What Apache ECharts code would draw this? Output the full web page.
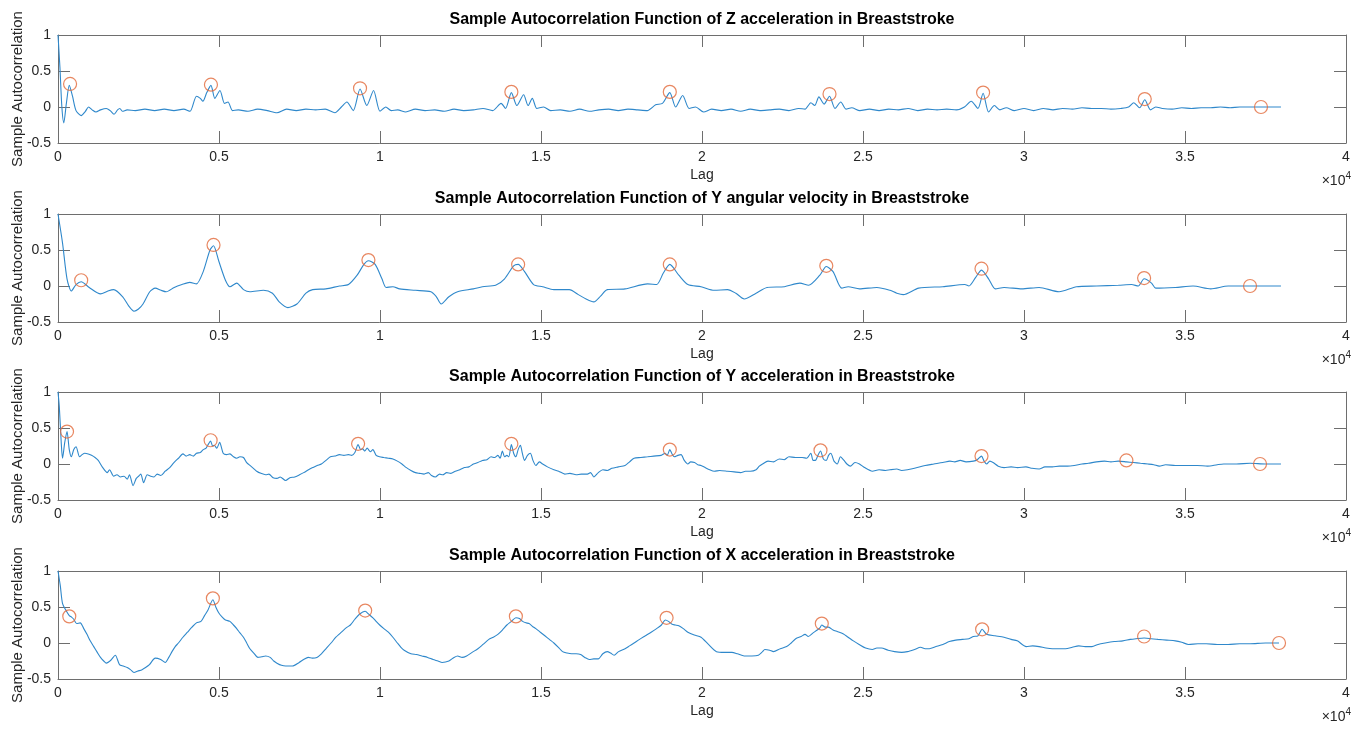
<!DOCTYPE html>
<html>
<head>
<meta charset="utf-8">
<script src="https://cdn.jsdelivr.net/npm/echarts@6/dist/echarts.min.js"></script>
<style>
html,body{margin:0;padding:0;background:#fff;}
#chart{width:1370px;height:729px;}
</style>
</head>
<body>
<div id="chart"></div>
<script>
// ---------------- DATA ----------------
const xTickLabels = ['0','0.5','1','1.5','2','2.5','3','3.5','4'];
const yTicks = [-0.5, 0, 0.5, 1];
const titles = [
  'Sample Autocorrelation Function of Z acceleration in Breaststroke',
  'Sample Autocorrelation Function of Y angular velocity in Breaststroke',
  'Sample Autocorrelation Function of Y acceleration in Breaststroke',
  'Sample Autocorrelation Function of X acceleration in Breaststroke'
];
const xAxisName = 'Lag';
const yAxisName = 'Sample Autocorrelation';
const xExponent = '×10{s|4}';

// [lag, autocorrelation]
const acfZAcc = [[0,1.0],[60,0.55],[120,0.0],[180,-0.22],[260,0.05],[350,0.3],[450,0.15],[560,-0.05],[720,-0.12],[850,-0.06],[950,0.0],[1060,-0.04],[1180,-0.07],[1320,-0.04],[1500,-0.02],[1620,-0.05],[1740,-0.1],[1850,-0.04],[1920,-0.02],[2000,-0.06],[2150,-0.04],[2400,-0.05],[2700,-0.03],[3000,-0.05],[3300,-0.03],[3600,-0.05],[3900,-0.03],[4100,-0.06],[4300,0.15],[4420,0.12],[4500,0.08],[4620,0.2],[4750,0.3],[4870,0.12],[5030,0.23],[5170,0.05],[5280,0.07],[5420,-0.05],[5600,-0.04],[5900,-0.06],[6200,-0.03],[6500,-0.05],[6800,-0.08],[7100,-0.03],[7400,-0.05],[7700,-0.03],[8000,-0.04],[8300,-0.03],[8600,-0.08],[8800,0.0],[8970,0.07],[9170,-0.05],[9380,0.25],[9590,0.02],[9800,0.23],[10000,-0.06],[10180,0.0],[10350,-0.05],[10550,-0.04],[10800,-0.07],[11100,-0.03],[11400,-0.05],[11700,-0.04],[12000,-0.06],[12300,-0.03],[12600,-0.05],[12900,-0.04],[13200,-0.02],[13500,-0.05],[13760,0.05],[13900,-0.02],[14080,0.2],[14250,0.02],[14460,0.17],[14600,0.02],[14730,0.12],[14870,-0.02],[15080,0.0],[15300,-0.05],[15600,-0.04],[15900,-0.06],[16200,-0.03],[16500,-0.06],[16800,-0.04],[17100,-0.03],[17400,-0.05],[17700,-0.03],[18000,-0.04],[18300,-0.05],[18560,0.03],[18770,0.05],[19000,0.2],[19180,0.0],[19400,0.16],[19600,-0.02],[19800,0.0],[20050,-0.07],[20300,-0.03],[20600,-0.05],[20900,-0.03],[21200,-0.06],[21500,-0.03],[21800,-0.05],[22100,-0.04],[22400,-0.03],[22700,-0.05],[23000,-0.02],[23200,-0.03],[23380,0.06],[23500,0.02],[23630,0.14],[23790,0.04],[23960,0.15],[24130,-0.02],[24310,0.07],[24470,-0.03],[24650,-0.01],[24900,-0.05],[25200,-0.03],[25500,-0.05],[25800,-0.03],[26100,-0.04],[26400,-0.02],[26700,-0.05],[27000,-0.03],[27300,-0.04],[27600,-0.03],[27900,-0.04],[28150,0.0],[28360,0.08],[28570,-0.02],[28730,0.19],[28900,-0.07],[29080,0.02],[29250,-0.04],[29450,-0.01],[29700,-0.05],[30000,-0.02],[30300,-0.05],[30600,-0.02],[30900,-0.04],[31200,-0.02],[31500,-0.03],[31800,-0.01],[32100,-0.02],[32400,-0.02],[32700,-0.03],[33000,-0.02],[33250,0.0],[33410,0.06],[33590,-0.01],[33750,0.1],[33930,-0.04],[34090,0.0],[34300,-0.02],[34600,-0.03],[34900,-0.01],[35200,-0.02],[35500,-0.01],[35800,-0.01],[36100,0.0],[36400,-0.01],[36700,0.0],[37000,0.0],[37300,0.0],[37600,0.0],[37980,0.0]];
const peaksZAcc = [[375,0.32],[4750,0.31],[9380,0.26],[14080,0.21],[19000,0.21],[23960,0.18],[28730,0.2],[33750,0.11],[37360,0.0]];

const acfYGyr = [[0,1.0],[140,0.6],[280,0.1],[415,-0.07],[560,0.02],[720,0.06],[970,-0.02],[1320,-0.11],[1550,-0.07],[1730,-0.05],[2010,-0.15],[2200,-0.28],[2360,-0.35],[2500,-0.32],[2640,-0.25],[2850,-0.08],[3020,-0.03],[3200,-0.06],[3360,-0.08],[3610,-0.02],[3850,0.02],[4090,0.05],[4300,0.03],[4510,0.2],[4720,0.5],[4830,0.56],[4990,0.35],[5200,0.08],[5340,-0.01],[5550,0.04],[5760,-0.05],[5960,-0.08],[6380,-0.06],[6660,-0.1],[6870,-0.22],[7140,-0.3],[7420,-0.25],[7700,-0.1],[7910,-0.05],[8320,-0.04],[8740,0.0],[9020,0.02],[9290,0.15],[9500,0.3],[9640,0.35],[9850,0.3],[10060,0.1],[10190,-0.02],[10400,-0.01],[10610,-0.04],[11100,-0.06],[11580,-0.08],[11750,-0.15],[11900,-0.25],[12140,-0.15],[12410,-0.08],[12900,-0.04],[13180,-0.01],[13590,0.01],[13870,0.1],[14150,0.28],[14290,0.3],[14490,0.2],[14770,0.02],[15050,-0.01],[15400,-0.05],[15880,-0.05],[16160,-0.12],[16400,-0.18],[16640,-0.22],[16850,-0.14],[17060,-0.05],[17610,-0.04],[18310,0.03],[18590,0.02],[18800,0.18],[19000,0.3],[19280,0.15],[19560,0.02],[19970,-0.01],[20380,-0.06],[20790,-0.05],[21050,-0.1],[21310,-0.18],[21680,-0.1],[22020,-0.02],[22560,-0.01],[23040,0.04],[23310,0.01],[23660,0.15],[23860,0.27],[24070,0.2],[24340,-0.03],[24540,-0.01],[24890,-0.04],[25430,-0.02],[25840,-0.06],[26050,-0.1],[26250,-0.12],[26730,-0.03],[27480,-0.01],[28160,0.02],[28290,0.0],[28500,0.12],[28680,0.22],[28900,0.1],[29110,-0.04],[29380,-0.02],[29930,-0.04],[30470,-0.02],[31090,-0.08],[31630,-0.01],[32250,0.0],[32930,0.01],[33340,0.02],[33550,0.0],[33730,0.1],[33960,0.04],[34090,-0.03],[34700,-0.02],[35250,0.0],[35800,-0.04],[36340,0.0],[37020,0.0],[37980,0.0]];
const peaksYGyr = [[720,0.08],[4830,0.57],[9640,0.36],[14290,0.3],[19000,0.3],[23860,0.28],[28680,0.24],[33730,0.11],[37020,0.0]];

const acfYAcc = [[0,1.0],[40,0.8],[100,0.3],[140,0.08],[210,0.3],[280,0.45],[350,0.2],[415,0.1],[490,0.2],[560,0.24],[670,0.1],[750,0.13],[830,0.15],[940,0.14],[1040,0.12],[1150,0.09],[1250,0.05],[1390,-0.05],[1530,-0.12],[1600,-0.08],[1730,-0.17],[1830,-0.15],[1940,-0.18],[2050,-0.17],[2150,-0.21],[2220,-0.15],[2330,-0.3],[2430,-0.2],[2500,-0.17],[2570,-0.14],[2660,-0.26],[2770,-0.15],[2880,-0.17],[2980,-0.18],[3080,-0.14],[3190,-0.16],[3330,-0.1],[3470,-0.05],[3600,0.02],[3740,0.08],[3880,0.14],[3980,0.11],[4090,0.13],[4200,0.11],[4300,0.15],[4420,0.16],[4510,0.2],[4600,0.22],[4650,0.26],[4740,0.32],[4800,0.25],[4850,0.26],[4930,0.22],[5020,0.3],[5130,0.15],[5230,0.13],[5340,0.14],[5450,0.1],[5550,0.08],[5650,0.1],[5760,0.09],[5860,0.02],[5960,-0.02],[6070,-0.06],[6170,-0.1],[6300,-0.13],[6450,-0.15],[6550,-0.14],[6680,-0.19],[6800,-0.2],[6900,-0.18],[7070,-0.23],[7200,-0.19],[7350,-0.18],[7500,-0.15],[7630,-0.12],[7780,-0.08],[7910,-0.05],[8050,-0.02],[8180,0.0],[8320,0.05],[8460,0.1],[8600,0.11],[8740,0.13],[8880,0.12],[9020,0.13],[9120,0.12],[9220,0.16],[9320,0.27],[9400,0.2],[9460,0.21],[9530,0.18],[9600,0.22],[9700,0.17],[9780,0.2],[9880,0.12],[9990,0.1],[10120,0.09],[10260,0.08],[10400,0.07],[10540,0.04],[10680,0.0],[10820,-0.05],[10960,-0.09],[11100,-0.12],[11230,-0.13],[11370,-0.14],[11500,-0.12],[11600,-0.16],[11720,-0.18],[11850,-0.14],[11950,-0.15],[12070,-0.12],[12200,-0.13],[12340,-0.1],[12480,-0.08],[12620,-0.05],[12760,-0.04],[12900,0.0],[13040,0.02],[13180,0.05],[13320,0.06],[13450,0.1],[13560,0.09],[13660,0.12],[13730,0.08],[13800,0.18],[13870,0.1],[13940,0.12],[14000,0.1],[14080,0.27],[14150,0.15],[14220,0.1],[14290,0.2],[14360,0.26],[14420,0.15],[14490,0.05],[14580,0.12],[14670,0.15],[14750,0.05],[14840,-0.02],[14950,0.03],[15050,0.0],[15200,-0.04],[15400,-0.08],[15550,-0.1],[15740,-0.14],[15900,-0.13],[16090,-0.15],[16250,-0.14],[16440,-0.14],[16540,-0.12],[16640,-0.18],[16780,-0.12],[16920,-0.08],[17060,-0.09],[17200,-0.06],[17400,-0.04],[17610,-0.02],[17750,0.03],[17890,0.08],[18100,0.09],[18310,0.1],[18500,0.11],[18730,0.12],[18860,0.15],[18920,0.12],[19000,0.2],[19070,0.14],[19140,0.1],[19250,0.12],[19350,0.13],[19450,0.05],[19560,0.0],[19650,0.03],[19770,0.02],[19870,-0.01],[19970,-0.02],[20100,-0.05],[20240,-0.08],[20380,-0.1],[20550,-0.09],[20790,-0.1],[21000,-0.11],[21200,-0.12],[21350,-0.1],[21500,-0.1],[21680,-0.08],[21780,-0.03],[21880,0.0],[22050,0.04],[22220,0.03],[22400,0.07],[22550,0.06],[22700,0.1],[22900,0.09],[23110,0.09],[23250,0.08],[23380,0.15],[23450,0.05],[23520,0.05],[23600,0.12],[23680,0.18],[23770,0.07],[23860,0.05],[23930,0.12],[24000,0.15],[24100,0.04],[24200,0.0],[24300,0.1],[24410,0.05],[24500,0.0],[24610,-0.03],[24750,0.02],[24890,0.0],[25050,-0.05],[25290,-0.1],[25500,-0.08],[25700,-0.09],[25840,-0.08],[26050,-0.07],[26200,-0.09],[26380,-0.08],[26600,-0.06],[26930,-0.02],[27200,0.0],[27480,0.02],[27700,0.04],[27850,0.03],[28020,0.05],[28200,0.03],[28430,0.04],[28550,0.06],[28680,0.11],[28760,0.04],[28840,0.0],[28940,0.04],[29040,0.02],[29200,-0.03],[29380,-0.05],[29600,-0.04],[29800,-0.05],[30060,-0.04],[30250,-0.06],[30470,-0.07],[30650,-0.04],[30880,-0.04],[31100,-0.03],[31350,-0.03],[31560,-0.02],[31800,0.0],[32000,0.01],[32250,0.03],[32500,0.04],[32700,0.03],[32930,0.04],[33180,0.03],[33400,0.02],[33620,0.01],[33850,0.0],[34030,-0.01],[34200,-0.03],[34400,-0.01],[34700,-0.02],[35000,-0.02],[35380,-0.02],[35700,-0.03],[36000,-0.01],[36200,0.0],[36600,0.0],[37020,0.01],[37500,0.0],[37980,0.0]];
const peaksYAcc = [[280,0.45],[4740,0.33],[9320,0.28],[14080,0.28],[19000,0.2],[23680,0.19],[28680,0.11],[33180,0.05],[37330,0.0]];

const acfXAcc = [[0,1.0],[70,0.8],[140,0.55],[250,0.45],[350,0.38],[420,0.36],[490,0.33],[580,0.27],[690,0.28],[800,0.2],[900,0.12],[1000,0.03],[1110,-0.05],[1220,-0.13],[1320,-0.2],[1420,-0.25],[1500,-0.28],[1640,-0.24],[1780,-0.17],[1910,-0.3],[2030,-0.32],[2150,-0.34],[2250,-0.37],[2360,-0.41],[2480,-0.39],[2610,-0.37],[2720,-0.34],[2840,-0.3],[3020,-0.21],[3190,-0.23],[3330,-0.27],[3440,-0.2],[3540,-0.12],[3640,-0.05],[3740,0.0],[3880,0.08],[4020,0.15],[4160,0.22],[4300,0.28],[4440,0.3],[4550,0.38],[4650,0.45],[4810,0.6],[4900,0.5],[4990,0.42],[5100,0.36],[5200,0.32],[5340,0.3],[5450,0.25],[5550,0.2],[5650,0.14],[5760,0.08],[5860,0.0],[5960,-0.08],[6080,-0.14],[6210,-0.2],[6330,-0.19],[6450,-0.18],[6590,-0.2],[6700,-0.25],[6800,-0.28],[6940,-0.31],[7070,-0.32],[7280,-0.32],[7490,-0.27],[7630,-0.23],[7770,-0.2],[7900,-0.21],[8040,-0.2],[8180,-0.15],[8320,-0.08],[8480,0.0],[8630,0.08],[8750,0.13],[8870,0.18],[8980,0.22],[9080,0.25],[9220,0.33],[9360,0.4],[9540,0.44],[9650,0.4],[9780,0.35],[9880,0.3],[9990,0.25],[10120,0.2],[10260,0.15],[10400,0.08],[10540,0.0],[10650,-0.06],[10750,-0.1],[10960,-0.15],[11130,-0.16],[11300,-0.18],[11480,-0.2],[11650,-0.23],[11800,-0.25],[11930,-0.27],[12140,-0.25],[12300,-0.2],[12410,-0.18],[12550,-0.2],[12690,-0.18],[12860,-0.13],[13040,-0.08],[13200,-0.02],[13380,0.05],[13520,0.08],[13660,0.12],[13800,0.18],[13940,0.25],[14080,0.3],[14220,0.35],[14330,0.34],[14430,0.3],[14530,0.28],[14630,0.27],[14740,0.23],[14840,0.2],[14980,0.15],[15120,0.1],[15260,0.05],[15400,0.0],[15540,-0.06],[15670,-0.12],[15810,-0.14],[15950,-0.15],[16090,-0.15],[16230,-0.16],[16360,-0.2],[16500,-0.23],[16640,-0.22],[16780,-0.22],[16920,-0.15],[17060,-0.12],[17160,-0.14],[17270,-0.17],[17410,-0.12],[17610,-0.08],[17750,-0.04],[17890,0.0],[18060,0.05],[18240,0.1],[18420,0.15],[18590,0.2],[18740,0.25],[18860,0.32],[18960,0.3],[19070,0.26],[19170,0.25],[19280,0.24],[19420,0.2],[19560,0.15],[19760,0.11],[19970,0.08],[20200,-0.02],[20450,-0.12],[20700,-0.13],[20930,-0.13],[21100,-0.15],[21310,-0.18],[21550,-0.18],[21750,-0.17],[21880,-0.12],[21950,-0.09],[22100,-0.1],[22220,-0.12],[22430,-0.08],[22630,-0.05],[22770,0.0],[22910,0.06],[23080,0.09],[23200,0.12],[23300,0.09],[23450,0.14],[23580,0.18],[23660,0.21],[23720,0.25],[23830,0.22],[23930,0.22],[24070,0.18],[24200,0.16],[24380,0.13],[24540,0.08],[24700,0.03],[24880,-0.02],[25080,-0.07],[25290,-0.09],[25430,-0.07],[25570,-0.07],[25780,-0.1],[25980,-0.12],[26200,-0.13],[26380,-0.12],[26600,-0.09],[26790,-0.06],[26930,-0.08],[27060,-0.08],[27270,-0.05],[27480,-0.02],[27680,0.02],[27880,0.04],[28090,0.05],[28290,0.06],[28430,0.09],[28570,0.1],[28700,0.19],[28840,0.12],[29100,0.1],[29380,0.08],[29600,0.05],[29790,0.03],[30070,-0.05],[30270,-0.04],[30470,-0.05],[30680,-0.07],[30880,-0.08],[31080,-0.08],[31290,-0.08],[31500,-0.06],[31700,-0.04],[31900,-0.05],[32110,-0.05],[32300,-0.02],[32520,0.0],[32800,0.02],[33070,0.03],[33300,0.05],[33480,0.06],[33730,0.07],[33950,0.06],[34160,0.05],[34430,0.04],[34700,0.03],[34900,0.01],[35110,-0.02],[35400,-0.01],[35660,-0.01],[36000,-0.02],[36340,-0.02],[36700,-0.01],[37020,-0.01],[37500,0.0],[37920,0.0]];
const peaksXAcc = [[350,0.37],[4810,0.62],[9540,0.45],[14220,0.37],[18900,0.35],[23720,0.27],[28700,0.19],[33730,0.09],[37920,0.0]];

const acfSeries = [acfZAcc, acfYGyr, acfYAcc, acfXAcc];
const peakSeries = [peaksZAcc, peaksYGyr, peaksYAcc, peaksXAcc];

// ---------------- LAYOUT / STYLE ----------------
const gridTops = [35, 214, 392, 571];
const gridH = 108, gridLeft = 58, gridRight = 24;
const plotCenterX = gridLeft + (1370 - gridLeft - gridRight) / 2;
const FONT = '"Liberation Sans", Arial, Helvetica, sans-serif';
const axisColor = '#6e6e6e';
const textColor = '#262626';
const lineColor = '#2f88cb';
const markerColor = '#e2693a';

const grids = [], xAxes = [], yAxes = [], series = [], graphics = [];
gridTops.forEach((top, i) => {
  grids.push({ left: gridLeft, right: gridRight, top: top, height: gridH, containLabel: false, outerBoundsMode: 'none' });
  const tick = { show: true, inside: true, length: 12, lineStyle: { color: axisColor, width: 1 } };
  const aline = { show: true, onZero: false, lineStyle: { color: axisColor, width: 1 } };
  xAxes.push({
    gridIndex: i, type: 'value', position: 'bottom', min: 0, max: 40000, interval: 5000,
    axisLine: aline, axisTick: tick, splitLine: { show: false },
    axisLabel: { formatter: v => xTickLabels[Math.round(v / 5000)], fontSize: 14, color: textColor, fontFamily: FONT, margin: 7 },
    name: xAxisName, nameLocation: 'middle', nameGap: 25, nameMoveOverlap: false,
    nameTextStyle: { fontSize: 14, color: textColor, fontFamily: FONT }
  });
  xAxes.push({
    gridIndex: i, type: 'value', position: 'top', min: 0, max: 40000, interval: 5000,
    axisLine: aline, axisTick: tick, splitLine: { show: false }, axisLabel: { show: false }
  });
  yAxes.push({
    gridIndex: i, type: 'value', position: 'left', min: yTicks[0], max: yTicks[yTicks.length - 1], interval: 0.5,
    axisLine: aline, axisTick: tick, splitLine: { show: false },
    axisLabel: { fontSize: 14, color: textColor, fontFamily: FONT, margin: 7 },
    name: yAxisName, nameLocation: 'middle', nameGap: 33, nameRotate: 90, nameMoveOverlap: false,
    nameTextStyle: { fontSize: 15, color: textColor, fontFamily: FONT }
  });
  yAxes.push({
    gridIndex: i, type: 'value', position: 'right', min: yTicks[0], max: yTicks[yTicks.length - 1], interval: 0.5,
    axisLine: aline, axisTick: tick, splitLine: { show: false }, axisLabel: { show: false }
  });
  series.push({
    type: 'line', xAxisIndex: 2 * i, yAxisIndex: 2 * i, data: acfSeries[i],
    showSymbol: false, smooth: 0.25, lineStyle: { color: lineColor, width: 1.1 }, z: 2, animation: false
  });
  series.push({
    type: 'scatter', xAxisIndex: 2 * i, yAxisIndex: 2 * i, data: peakSeries[i],
    symbol: 'circle', symbolSize: 13,
    itemStyle: { color: 'rgba(0,0,0,0)', borderColor: markerColor, borderWidth: 1.2 }, z: 3, animation: false
  });
  graphics.push({
    type: 'text', x: plotCenterX, y: top - 15,
    style: { text: titles[i], fontSize: 16, fontWeight: 'bold', fontFamily: FONT, fill: '#000',
             align: 'center', verticalAlign: 'middle', textAlign: 'center', textVerticalAlign: 'middle' }
  });
  graphics.push({
    type: 'text', x: 1351, y: top + gridH + 38,
    style: { text: xExponent, fontSize: 14, fontFamily: FONT, fill: textColor,
             align: 'right', verticalAlign: 'middle', textAlign: 'right', textVerticalAlign: 'middle',
             rich: { s: { fontSize: 10, fontFamily: FONT, fill: textColor, padding: [0, 0, 9, 0] } } }
  });
});

const chart = echarts.init(document.getElementById('chart'), null, { renderer: 'canvas' });
chart.setOption({
  animation: false,
  backgroundColor: '#fff',
  grid: grids, xAxis: xAxes, yAxis: yAxes, series: series,
  graphic: { elements: graphics }
});
</script>
</body>
</html>
